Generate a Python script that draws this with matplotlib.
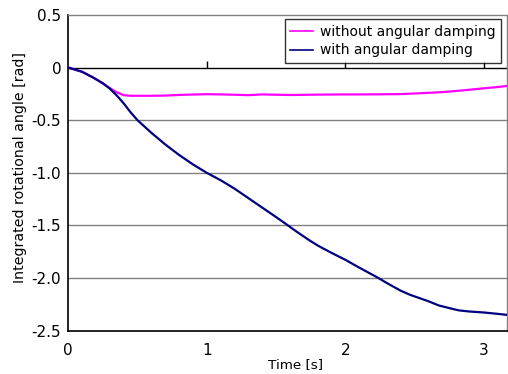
import matplotlib
matplotlib.use("Agg")
import matplotlib.pyplot as plt

plt.rcParams['font.family'] = ['DejaVu Sans']

time_s = [0, 0.1, 0.18, 0.25, 0.30, 0.35, 0.40, 0.45, 0.5, 0.6, 0.7, 0.77, 0.8, 0.9,
          1.0, 1.1, 1.2, 1.3, 1.4, 1.5, 1.58, 1.65, 1.735, 1.8, 1.9, 2.0, 2.1, 2.24,
          2.3, 2.4, 2.47, 2.6, 2.675, 2.75, 2.82, 2.9, 3.0, 3.1, 3.17]
without_damping = [0, -0.04, -0.095, -0.15, -0.196, -0.235, -0.262, -0.268, -0.268, -0.268,
                   -0.266, -0.262, -0.26, -0.256, -0.253, -0.255, -0.258, -0.262, -0.255,
                   -0.258, -0.26, -0.26, -0.258, -0.257, -0.256, -0.255, -0.255, -0.254,
                   -0.253, -0.252, -0.248, -0.24, -0.235, -0.228, -0.22, -0.21, -0.197,
                   -0.185, -0.174]
with_damping = [0, -0.04, -0.095, -0.15, -0.20, -0.265, -0.34, -0.425, -0.50, -0.62, -0.73,
                -0.80, -0.83, -0.92, -1.0, -1.07, -1.15, -1.24, -1.33, -1.42, -1.494, -1.56,
                -1.636, -1.69, -1.76, -1.826, -1.90, -2.0, -2.047, -2.12, -2.16, -2.22,
                -2.26, -2.285, -2.307, -2.318, -2.327, -2.34, -2.35]

series_labels = ["without angular damping", "with angular damping"]
x_ticks = [0, 1, 2, 3]
x_tick_labels = ["0", "1", "2", "3"]
y_ticks = [0.5, 0, -0.5, -1.0, -1.5, -2.0, -2.5]
y_tick_labels = ["0.5", "0", "-0.5", "-1.0", "-1.5", "-2.0", "-2.5"]

fig = plt.figure(figsize=(5.08, 3.74), dpi=100)
ax = fig.add_axes([0.1344, 0.1158, 0.8642, 0.8442])

# grid lines
for yv in y_ticks[2:-1]:
    ax.axhline(yv, color='#808080', lw=1.0, zorder=1)
ax.axhline(0, color='black', lw=1.0, zorder=1)

ax.plot(time_s, without_damping, color='#FF00FF', lw=1.6, label=series_labels[0], zorder=3)
ax.plot(time_s, with_damping, color='#000080', lw=1.6, label=series_labels[1], zorder=3)

# x tick marks at the y=0 axis (Excel style)
ax.plot(x_ticks[1:], [0] * len(x_ticks[1:]), linestyle='none', marker=2,
        markersize=5, color='black', markeredgewidth=1.0, zorder=2)

ax.set_xlim(0, 3.17)
ax.set_ylim(-2.5, 0.5)
ax.set_xticks(x_ticks)
ax.set_xticklabels(x_tick_labels)
ax.set_yticks(y_ticks)
ax.set_yticklabels(y_tick_labels)
ax.tick_params(axis='x', length=0, pad=9, labelsize=11)
ax.tick_params(axis='y', length=0, pad=5, labelsize=11)

for s in ['left', 'bottom']:
    ax.spines[s].set_color('black')
    ax.spines[s].set_linewidth(1.2)
for s in ['top', 'right']:
    ax.spines[s].set_color('#808080')
    ax.spines[s].set_linewidth(1.0)

ax.set_xlabel("Time [s]", fontsize=9.7)
ax.set_ylabel("Integrated rotational angle [rad]", fontsize=10.2)
ax.xaxis.set_label_coords(0.5176, -0.086)
ax.yaxis.set_label_coords(-0.094, 0.517)

leg = ax.legend(loc='upper right', bbox_to_anchor=(500.7 / 508, (374 - 19) / 374),
                bbox_transform=fig.transFigure, borderaxespad=0, fontsize=10,
                frameon=True, fancybox=False, handlelength=1.6, handletextpad=0.5,
                borderpad=0.4, labelspacing=0.35)
leg.get_frame().set_edgecolor('black')
leg.get_frame().set_linewidth(1.0)
for line in leg.get_lines():
    line.set_linewidth(1.2)

fig.savefig("out.png", dpi=100)
